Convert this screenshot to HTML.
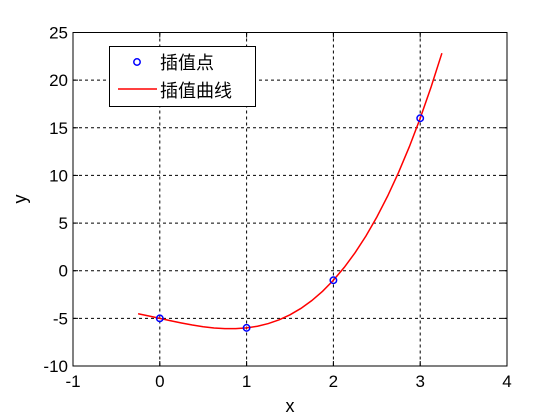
<!DOCTYPE html>
<html><head><meta charset="utf-8"><style>
html,body{margin:0;padding:0;background:#fff;}
svg{display:block;font-family:"Liberation Sans","Noto Sans CJK SC",sans-serif;}
</style></head><body>
<svg id="chart" width="560" height="420"></svg>
<script>
const xTicks=[-1,0,1,2,3,4];
const yTicks=[-10,-5,0,5,10,15,20,25];
const pointX=[0,1,2,3];
const pointY=[-5,-6,-1,16];
const curveX=[-0.25,-0.125,0,0.125,0.25,0.375,0.5,0.625,0.75,0.875,1,1.125,1.25,1.375,1.5,1.625,1.75,1.875,2,2.125,2.25,2.375,2.5,2.625,2.75,2.875,3,3.125,3.25];
const curveY=[-4.516,-4.752,-5,-5.248,-5.484,-5.697,-5.875,-6.006,-6.078,-6.080,-6,-5.826,-5.547,-5.150,-4.625,-3.959,-3.141,-2.158,-1,0.346,1.891,3.646,5.625,7.838,10.297,13.014,16,19.268,22.828];
const L=73,R=507,T=32.5,B=366;
const sx=v=>L+(v+1)/5*(R-L);
const sy=v=>B-(v+10)/35*(B-T);
const NS='http://www.w3.org/2000/svg';
const svg=document.getElementById('chart');
function mk(tag,attrs,parent){const e=document.createElementNS(NS,tag);for(const k in attrs)e.setAttribute(k,attrs[k]);(parent||svg).appendChild(e);return e;}
let e;
e=mk('rect',{x:L,y:T,width:R-L,height:B-T,fill:'#fff',stroke:'none'});


xTicks.forEach(v=>{const x=sx(v);
 if(v>-1&&v<4){e=mk('line',{x1:x,y1:T,x2:x,y2:B,stroke:'#000','stroke-width':1,'stroke-dasharray':'3,3'});
 
 }
 mk('line',{x1:x,y1:B,x2:x,y2:B-5,stroke:'#000'});mk('line',{x1:x,y1:T,x2:x,y2:T+5,stroke:'#000'});
 e=mk('text',{x:x,y:B+21,'text-anchor':'middle','font-size':17});e.textContent=v;
 
 
});
yTicks.forEach(v=>{const y=sy(v);
 if(v>-10&&v<25){e=mk('line',{x1:L,y1:y,x2:R,y2:y,stroke:'#000','stroke-width':1,'stroke-dasharray':'3,3'});
 
 }
 mk('line',{x1:L,y1:y,x2:L+5,y2:y,stroke:'#000'});mk('line',{x1:R,y1:y,x2:R-5,y2:y,stroke:'#000'});
 e=mk('text',{x:L-5,y:y+6,'text-anchor':'end','font-size':17});e.textContent=v;
 
 
});
e=mk('rect',{x:L,y:T,width:R-L,height:B-T,fill:'none',stroke:'#000','stroke-width':1});


e=mk('polyline',{points:curveX.map((x,i)=>sx(x)+','+sy(curveY[i])).join(' '),fill:'none',stroke:'#f00','stroke-width':1.5});


pointX.forEach((x,i)=>{e=mk('circle',{cx:sx(x),cy:sy(pointY[i]),r:3.2,fill:'none',stroke:'#00f','stroke-width':1.5});
 
 });
e=mk('text',{x:290,y:412,'text-anchor':'middle','font-size':18});e.textContent='x';


e=mk('text',{x:26,y:199,'text-anchor':'middle','font-size':18,transform:'rotate(-90 26 199)'});e.textContent='y';


const g=mk('g',{});


mk('rect',{x:109.5,y:46.5,width:146,height:60,fill:'#fff',stroke:'#000'},g);
e=mk('circle',{cx:137,cy:62,r:3.2,fill:'none',stroke:'#00f','stroke-width':1.5},g);


e=mk('text',{x:160,y:69,'font-size':18},g);e.textContent='插值点';


e=mk('line',{x1:118,y1:89,x2:157,y2:89,stroke:'#f00','stroke-width':1.5},g);


e=mk('text',{x:160,y:97,'font-size':18},g);e.textContent='插值曲线';


</script>
</body></html>
